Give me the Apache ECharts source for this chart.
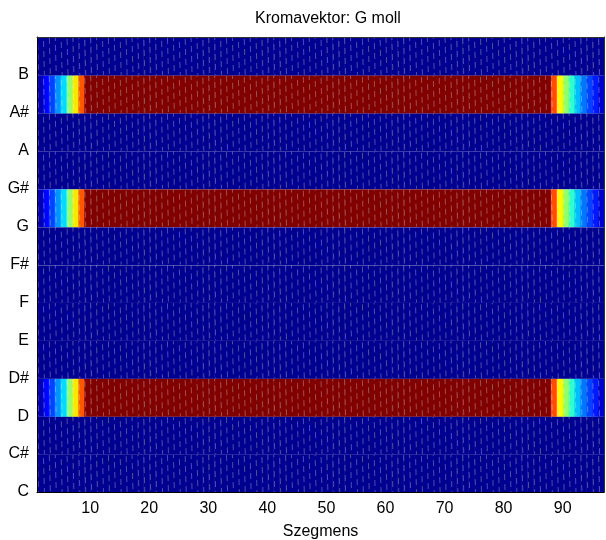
<!DOCTYPE html>
<html>
<head>
<meta charset="utf-8">
<script src="https://cdn.jsdelivr.net/npm/echarts@6/dist/echarts.min.js"></script>
<style>html,body{margin:0;padding:0;background:#fff;width:100%;height:100%;overflow:hidden;}#c{width:100vw;height:100vh;}</style>
</head>
<body>
<div id="c"></div>
<script>
// Pitch classes (rows, bottom to top)
const yLabels = ['C','C#','D','D#','E','F','F#','G','G#','A','A#','B'];
// Notes present in G minor (active rows)
const activeNotes = ['D','G','A#'];
// Segment profile for an active row (96 segments, starting at segment 1)
const activeProfile = [
  0.04, 0.13, 0.19, 0.27, 0.34, 0.52, 0.65, 0.79, 1, 1,
  1, 1, 1, 1, 1, 1, 1, 1, 1, 1,
  1, 1, 1, 1, 1, 1, 1, 1, 1, 1,
  1, 1, 1, 1, 1, 1, 1, 1, 1, 1,
  1, 1, 1, 1, 1, 1, 1, 1, 1, 1,
  1, 1, 1, 1, 1, 1, 1, 1, 1, 1,
  1, 1, 1, 1, 1, 1, 1, 1, 1, 1,
  1, 1, 1, 1, 1, 1, 1, 1, 1, 1,
  1, 1, 1, 1, 1, 1, 1, 0.8, 0.63, 0.52,
  0.42, 0.31, 0.24, 0.19, 0.15, 0.07
];
// Segment value for an inactive row
const inactiveValue = 0;
// Axis ticks
const xTicks = [10, 20, 30, 40, 50, 60, 70, 80, 90];
const yTicks = [1, 2, 3, 4, 5, 6, 7, 8, 9, 10, 11, 12];
const xMin = 1, xMax = 97, yMin = 1, yMax = 13;

const data = [];
yLabels.forEach((note, r) => {
  const active = activeNotes.indexOf(note) >= 0;
  activeProfile.forEach((v, c) => {
    data.push([c + 1, r + 1, active ? v : inactiveValue]);
  });
});

const jet = ['#000090','#0000ff','#0080ff','#00ffff','#80ff80','#ffff00','#ff8000','#ff0000','#800000'];
const FONT = 'Liberation Sans, Arial, Helvetica, sans-serif';

const chart = echarts.init(document.getElementById('c'), null, {renderer: 'canvas'});
chart.setOption({
  animation: false,
  backgroundColor: '#fff',
  title: {
    text: 'Kromavektor: G moll',
    left: 323, top: 6, textAlign: 'center',
    textStyle: {fontSize: 16, fontWeight: 'normal', color: '#000', fontFamily: FONT}
  },
  grid: {left: 37, right: 2, top: 37, bottom: 48, containLabel: false, outerBoundsMode: 'none'},
  visualMap: {show: false, type: 'continuous', min: 0, max: 1, dimension: 2, seriesIndex: 0, inRange: {color: jet}},
  xAxis: [{
    type: 'value', min: xMin, max: xMax, position: 'bottom', z: 10,
    axisLine: {show: true, onZero: false, lineStyle: {color: '#000', width: 1}},
    axisTick: {show: false},
    splitLine: {show: false},
    axisLabel: {customValues: xTicks, color: '#000', fontSize: 16, fontFamily: FONT, margin: 9},
    name: 'Szegmens', nameLocation: 'middle', nameGap: 32,
    nameTextStyle: {color: '#000', fontSize: 16, fontFamily: FONT}
  }, {
    type: 'value', min: xMin, max: xMax, position: 'top', z: 10,
    axisLine: {show: true, onZero: false, lineStyle: {color: '#333', width: 1}},
    axisTick: {show: false}, axisLabel: {show: false}, splitLine: {show: false}
  }],
  yAxis: [{
    type: 'value', min: yMin, max: yMax, position: 'left', z: 10,
    axisLine: {show: true, onZero: false, lineStyle: {color: '#000', width: 1}},
    axisTick: {show: false},
    splitLine: {show: false},
    axisLabel: {customValues: yTicks, formatter: v => yLabels[v - 1] || '', color: '#000', fontSize: 16, fontFamily: FONT, margin: 8}
  }, {
    type: 'value', min: yMin, max: yMax, position: 'right', z: 10,
    axisLine: {show: true, onZero: false, lineStyle: {color: '#333', width: 1}},
    axisTick: {show: false}, axisLabel: {show: false}, splitLine: {show: false}
  }],
  series: [{
    type: 'custom',
    xAxisIndex: 0, yAxisIndex: 0,
    data: data,
    encode: {x: 0, y: 1},
    renderItem: function (params, api) {
      const x0 = api.value(0), y0 = api.value(1);
      const p0 = api.coord([x0, y0]);
      const p1 = api.coord([x0 + 1, y0 + 1]);
      const color = api.visual('color');
      const w = p1[0] - p0[0], h = p0[1] - p1[1];
      return {
        type: 'group',
        children: [
          {type: 'rect', shape: {x: p0[0], y: p1[1], width: w + 0.5, height: h + 0.5}, style: {fill: color}},
          {type: 'line', shape: {x1: p0[0] + 0.5, y1: p1[1], x2: p0[0] + 1.5, y2: p0[1]},
            style: {stroke: 'rgba(255,255,255,0.3)', lineWidth: 1, lineDash: [6, 4], lineDashOffset: (x0 * 3) % 10}},
          {type: 'line', shape: {x1: p0[0], y1: Math.round(p1[1]) + 0.5, x2: p1[0], y2: Math.round(p1[1]) + 0.5},
            style: {stroke: 'rgba(255,255,255,0.3)', lineWidth: 1}}
        ]
      };
    }
  }]
});
</script>
</body>
</html>
